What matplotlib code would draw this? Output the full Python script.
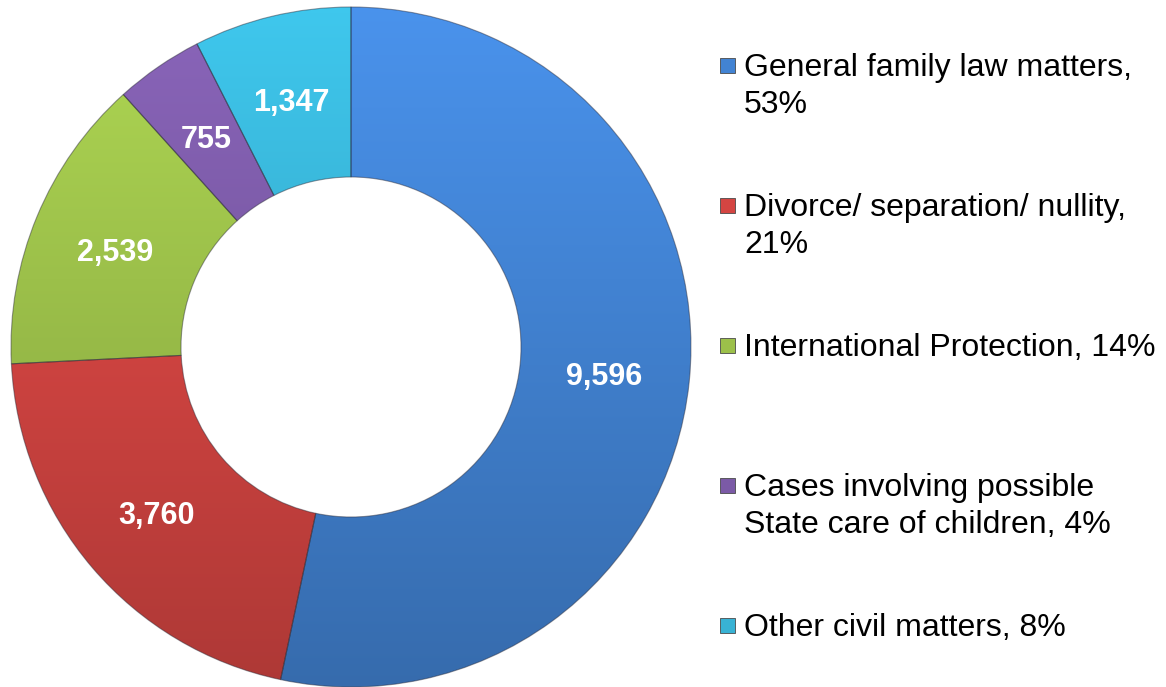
import numpy as np
import matplotlib
matplotlib.use("Agg")
import matplotlib.pyplot as plt
from matplotlib.colors import to_rgb
from matplotlib.patches import Rectangle

plt.rcParams['font.family'] = ['Liberation Sans', 'DejaVu Sans']

categories = ['General family law matters', 'Divorce/ separation/ nullity',
              'International Protection',
              'Cases involving possible State care of children',
              'Other civil matters']
values = [9596, 3760, 2539, 755, 1347]
legend_labels = ['General family law matters,\n53%',
                 'Divorce/ separation/ nullity,\n21%',
                 'International Protection, 14%',
                 'Cases involving possible\nState care of children, 4%',
                 'Other civil matters, 8%']
colors = ['#4283d3', '#d44542', '#9cc04a', '#7b5aa6', '#38b2d4']

W, H = 1166, 687
fig = plt.figure(figsize=(W / 100, H / 100), dpi=100)

# donut axes: centre (351, 347) px, radius 340 px
cx, cy, R = 351, 347, 340
ax = fig.add_axes([(cx - R) / W, (H - cy - R) / H, 2 * R / W, 2 * R / H])
ax.axis('off')

wedges, _ = ax.pie(values, startangle=90, counterclock=False, radius=1,
                   colors=colors,
                   wedgeprops=dict(width=0.5, edgecolor='none'))

# vertical light-to-dark shading in each wedge
grad = np.linspace(1.12, 0.82, 256)[:, None]
for w, c in zip(wedges, colors):
    rgb = np.array(to_rgb(c))
    img = np.clip(grad[:, :, None] * rgb[None, None, :], 0, 1)
    img = np.repeat(img, 2, axis=1)
    im = ax.imshow(img, extent=(-1, 1, -1, 1), origin='upper',
                   interpolation='bilinear', zorder=1)
    im.set_clip_path(w)
    w.set_facecolor('none')
    w.set_edgecolor((0.15, 0.15, 0.2, 0.45))
    w.set_linewidth(0.8)
    w.set_zorder(2)

# value labels
for w, v in zip(wedges, values):
    ang = np.deg2rad((w.theta1 + w.theta2) / 2)
    r = 0.75
    ax.text(r * np.cos(ang), r * np.sin(ang), f'{v:,}', ha='center',
            va='center_baseline', color='white', fontsize=22,
            fontweight='bold', zorder=3)

ax.set_xlim(-1, 1)
ax.set_ylim(-1, 1)
ax.set_aspect('equal')

# legend
marker_y = [65.5, 205.5, 345.5, 485.5, 625.5]
line_h = 37
for lab, c, y in zip(legend_labels, colors, marker_y):
    fig.patches.append(Rectangle((720 / W, (H - y - 7.5) / H), 15 / W, 15 / H,
                                 transform=fig.transFigure,
                                 facecolor=c, edgecolor='#4a4a4a',
                                 linewidth=0.6))
    for i, line in enumerate(lab.split('\n')):
        base = y + 10.5 + i * line_h
        fig.text(744 / W, (H - base) / H, line, ha='left', va='baseline',
                 fontsize=23, color='black')

fig.savefig('out.png', dpi=100)
